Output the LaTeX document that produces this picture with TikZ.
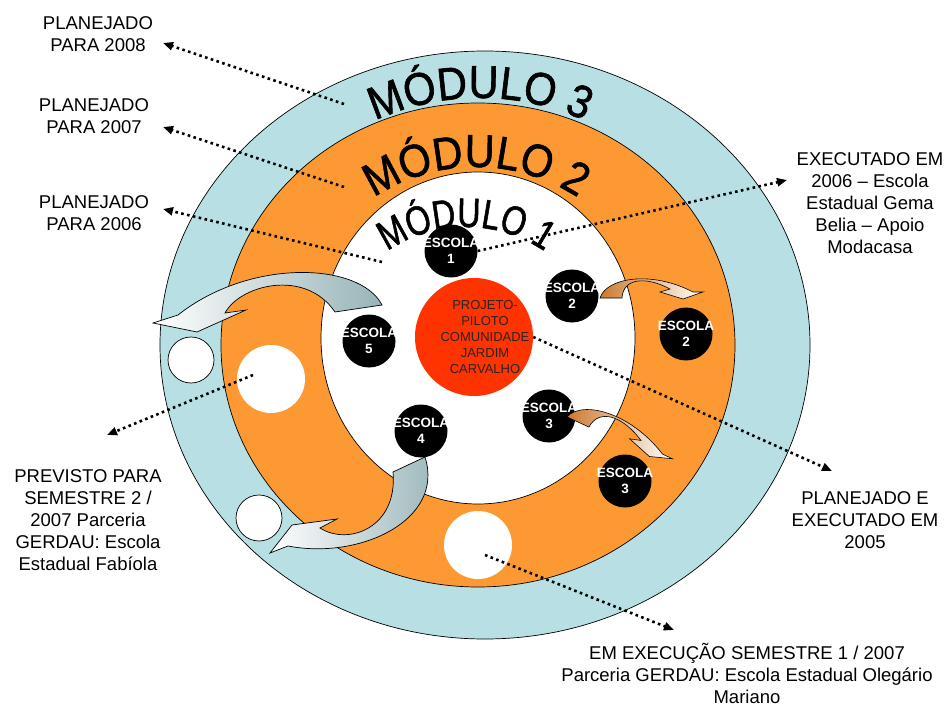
\documentclass[tikz,border=0pt]{standalone}
\usepackage{fontspec}
\setmainfont{Liberation Sans}
\setsansfont{Liberation Sans}
\newfontfamily\modfont[FakeStretch=0.9, FakeBold=1.3]{Liberation Sans}
\newfontfamily\modfontnarrow[FakeStretch=0.78, FakeBold=1.3]{Liberation Sans}
\usetikzlibrary{arrows.meta, decorations.text}

\definecolor{ringblue}{RGB}{184,223,227}
\definecolor{ringorange}{RGB}{253,153,51}
\definecolor{pilotred}{RGB}{255,51,0}
\definecolor{arrowgray}{RGB}{151,180,184}
\definecolor{arrowbrown}{RGB}{204,122,46}

\newcommand\modbig{\modfont\fontsize{46}{50}\selectfont}
\newcommand\modsmall{\modfontnarrow\fontsize{41}{50}\selectfont}

\tikzset{
  ring/.style={draw=black, line width=0.7pt},
  school/.style={circle, fill=black, minimum size=53pt, inner sep=0pt,
    label={[schooltext]center:{ESCOLA\\#1}}},
  schooltext/.style={text=white, font=\bfseries\fontsize{13.5}{16}\selectfont, align=center},
  hole/.style={circle, fill=white, inner sep=0pt, minimum size=#1},
  note/.style={font=\fontsize{18.5}{22}\selectfont, align=center, inner sep=1pt},
  dotarrow/.style={line width=2.6pt, dash pattern=on 2.6pt off 3.4pt,
    -{Triangle[length=10pt, width=8pt]}},
  bigarrow/.style={draw=black, line width=0.7pt, left color=white,
    middle color=arrowgray, right color=arrowgray},
  bentarrow/.pic={
    \draw[line width=0.6pt, left color=arrowbrown, middle color=arrowbrown!60!white, right color=white]
      (-11,0) .. controls (-5,-20) and (40,-28) .. (82,-6) -- (92,-6) -- (72,1)
      -- (49,-6) -- (59,-9) .. controls (35,-22) and (12,-20) .. (11,0) -- cycle;
  },
}

\begin{document}
\begin{tikzpicture}[x=1pt, y=-1pt]
    \useasboundingbox (0,0) rectangle (946,706);

    % the three modules
    \draw[ring, fill=ringblue]   (485,345) ellipse [x radius=325, y radius=294];
    \draw[ring, fill=ringorange] (478,345) ellipse [x radius=257, y radius=242];
    \draw[ring, fill=white]      (478,338) ellipse [x radius=157, y radius=166];

    \path[decorate, decoration={text along path, text align=center, text={|\modbig|MÓDULO 3}}]
        (480,352) ++(200:254) arc [start angle=200, end angle=340, radius=254];
    \path[decorate, decoration={text along path, text align=center, text={|\modbig|MÓDULO 2}}]
        (476,352) ++(195:185) arc [start angle=195, end angle=345, radius=185];
    \path[decorate, decoration={text along path, text align=center, text={|\modsmall|MÓDULO 1}}]
        (466,366) ++(190:139) arc [start angle=190, end angle=350, radius=139];

    % places for the new schools
    \node[hole=68pt] (h1) at (271,379) {};
    \node[hole=68pt] (h2) at (478,545) {};
    \node[hole=46pt, draw, line width=0.7pt] (h3) at (191,360) {};
    \node[hole=46pt, draw, line width=0.7pt] (h4) at (259,518) {};

    \draw[bigarrow] (153,323) -- (197,332) -- (246,310) -- (225,313)
        .. controls (240,285) and (305,268) .. (335,312) -- (382,305)
        .. controls (360,262) and (250,258) .. (178,315) -- cycle;
    \draw[bigarrow] (270,553) -- (292,525) -- (337,519) -- (320,528)
        .. controls (348,546) and (398,528) .. (393,472) -- (425,457)
        .. controls (445,520) and (360,560) .. (288,546) -- cycle;

    % schools
    \node[school=1] (e1)  at (451,251) {};
    \node[school=2] (e2)  at (572,296) {};
    \node[school=2] (e2b) at (686,334) {};
    \node[school=3] (e3)  at (549,416) {};
    \node[school=3] (e3b) at (625,481) {};
    \node[school=4] (e4)  at (421,431) {};
    \node[school=5] (e5)  at (369,341) {};

    \node[circle, fill=pilotred, minimum size=118pt, inner sep=0pt] (piloto) at (474,337) {};
    \node[font=\fontsize{13}{16}\selectfont, align=center, text=black!85] (pilototxt)
        at ([xshift=11pt]piloto.center) {PROJETO-\\PILOTO\\COMUNIDADE\\JARDIM\\CARVALHO};

    \pic at (611,298) {bentarrow};
    \pic[rotate=-25, scale=1.1] at (578,422) {bentarrow};

    % notes
    \node[note] (p2008)    at (98,34)   {PLANEJADO\\PARA 2008};
    \node[note] (p2007)    at (94,116)  {PLANEJADO\\PARA 2007};
    \node[note] (p2006)    at (94,213)  {PLANEJADO\\PARA 2006};
    \node[note] (exec2006) at (870,203) {EXECUTADO EM\\2006 – Escola\\Estadual Gema\\Belia – Apoio\\Modacasa};
    \node[note] (exec2005) at (865,520) {PLANEJADO E\\EXECUTADO EM\\2005};
    \node[note] (prev)     at (88,520)  {PREVISTO PARA\\SEMESTRE 2 /\\2007 Parceria\\GERDAU: Escola\\Estadual Fabíola};
    \node[note] (emexec)   at (747,673) {EM EXECUÇÃO SEMESTRE 1 / 2007\\Parceria GERDAU: Escola Estadual Olegário\\Mariano};

    \coordinate (s2008) at (344,104);   \coordinate (t2008) at (163,43);
    \coordinate (s2007) at (344,187);   \coordinate (t2007) at (163,127);
    \coordinate (s2006) at (382,262);   \coordinate (t2006) at (163,209);
    \coordinate (t2006e) at (787,180);
    \coordinate (t2005) at (832,471);
    \coordinate (sprev) at (253,375);   \coordinate (tprev) at (107,435);
    \coordinate (sexec) at (485,555);   \coordinate (texec) at (674,630);

    \draw[dotarrow] (s2008) -- (t2008);
    \draw[dotarrow] (s2007) -- (t2007);
    \draw[dotarrow] (s2006) -- (t2006);
    \draw[dotarrow] (e1.east) -- (t2006e);
    \draw[dotarrow] (piloto.east) -- (t2005);
    \draw[dotarrow] (sprev) -- (tprev);
    \draw[dotarrow] (sexec) -- (texec);
\end{tikzpicture}
\end{document}
